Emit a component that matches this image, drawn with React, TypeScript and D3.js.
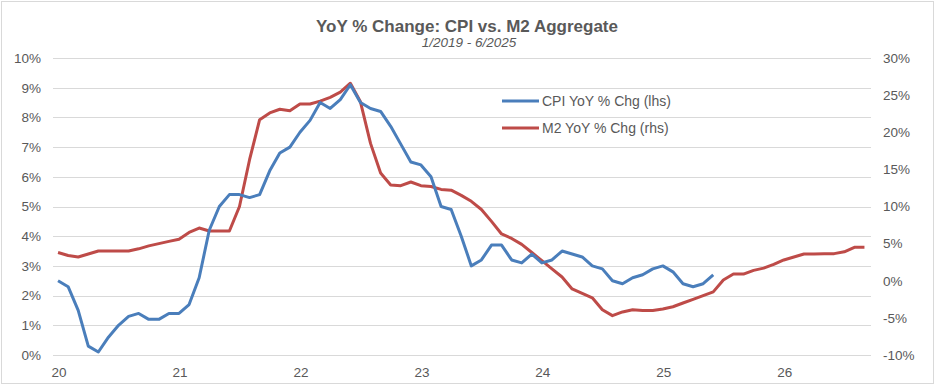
import { useEffect, useRef } from 'react';
import * as d3 from 'd3';

// monthly, starting Jan 2020
const cpiYoY = [
  2.5, 2.3, 1.5, 0.3, 0.1, 0.6, 1.0, 1.3, 1.4, 1.2, 1.2, 1.4,
  1.4, 1.7, 2.6, 4.2, 5.0, 5.4, 5.4, 5.3, 5.4, 6.2, 6.8, 7.0,
  7.5, 7.9, 8.5, 8.3, 8.6, 9.1, 8.5, 8.3, 8.2, 7.7, 7.1, 6.5,
  6.4, 6.0, 5.0, 4.9, 4.0, 3.0, 3.2, 3.7, 3.7, 3.2, 3.1, 3.4,
  3.1, 3.2, 3.5, 3.4, 3.3, 3.0, 2.9, 2.5, 2.4, 2.6, 2.7, 2.9,
  3.0, 2.8, 2.4, 2.3, 2.4, 2.7,
];

// M2 is plotted shifted forward, so it runs past the CPI line
const m2YoY = [
  3.8, 3.4, 3.2, 3.6, 4.0, 4.0, 4.0, 4.0, 4.3, 4.7, 5.0, 5.3,
  5.6, 6.5, 7.1, 6.7, 6.7, 6.7, 10.0, 16.3, 21.7, 22.6, 23.1, 22.9,
  23.8, 23.8, 24.2, 24.7, 25.4, 26.6, 24.1, 18.5, 14.5, 12.9, 12.8, 13.3,
  12.8, 12.7, 12.3, 12.2, 11.5, 10.7, 9.6, 8.0, 6.3, 5.7, 4.9, 3.8,
  2.7, 1.6, 0.5, -1.1, -1.7, -2.3, -3.9, -4.7, -4.2, -3.9, -4.0, -4.0,
  -3.8, -3.5, -3.0, -2.5, -2.0, -1.5, 0.1, 0.9, 0.9, 1.4, 1.7, 2.2,
  2.8, 3.2, 3.6, 3.6, 3.65, 3.65, 3.9, 4.5, 4.5,
];

const yearLabels = ['20', '21', '22', '23', '24', '25', '26'];
const leftTicks = [0, 1, 2, 3, 4, 5, 6, 7, 8, 9, 10];
const rightTicks = [-10, -5, 0, 5, 10, 15, 20, 25, 30];

const seriesNames = ['CPI YoY % Chg (lhs)', 'M2 YoY % Chg (rhs)'];
const colors = ['#4A7EBB', '#BE4B48'];

const App = () => {
  const svgRef = useRef<SVGSVGElement | null>(null);

  useEffect(() => {
    if (!svgRef.current) return;
    const width = 936;
    const height = 388;
    const plot = { left: 53, right: 871, top: 58, bottom: 355 };
    const font = 'Liberation Sans, Arial, sans-serif';
    const textColor = '#595959';

    const svg = d3.select(svgRef.current);
    svg.selectAll('*').remove();
    svg.attr('width', width).attr('height', height);

    svg.append('rect')
      .attr('width', width).attr('height', height).attr('fill', '#fff');
    svg.append('rect')
      .attr('x', 1.5).attr('y', 1.5)
      .attr('width', 932).attr('height', 382)
      .attr('fill', 'none').attr('stroke', '#D9D9D9');

    // month index scale (0 = Jan 2020)
    const x = d3.scaleLinear().domain([-0.5, 80.65]).range([plot.left, plot.right]);
    const yL = d3.scaleLinear().domain([0, 10]).range([plot.bottom, plot.top]);
    const yR = d3.scaleLinear().domain([-10, 30]).range([plot.bottom, plot.top]);

    // gridlines
    svg.append('g')
      .selectAll('line')
      .data(leftTicks)
      .join('line')
      .attr('x1', plot.left).attr('x2', plot.right)
      .attr('y1', (d) => Math.round(yL(d)) + 0.5)
      .attr('y2', (d) => Math.round(yL(d)) + 0.5)
      .attr('stroke', '#D9D9D9');

    // left axis labels
    svg.append('g')
      .selectAll('text')
      .data(leftTicks)
      .join('text')
      .attr('x', 41).attr('y', (d) => yL(d))
      .attr('dy', '0.36em')
      .attr('text-anchor', 'end')
      .attr('font-family', font).attr('font-size', 13.5)
      .attr('fill', textColor)
      .text((d) => `${d}%`);

    // right axis labels
    svg.append('g')
      .selectAll('text')
      .data(rightTicks)
      .join('text')
      .attr('x', 883).attr('y', (d) => yR(d))
      .attr('dy', '0.36em')
      .attr('text-anchor', 'start')
      .attr('font-family', font).attr('font-size', 13.5)
      .attr('fill', textColor)
      .text((d) => `${d}%`);

    // x axis year labels
    svg.append('g')
      .selectAll('text')
      .data(yearLabels)
      .join('text')
      .attr('x', (_, i) => x(i * 12) + 1)
      .attr('y', 377)
      .attr('text-anchor', 'middle')
      .attr('font-family', font).attr('font-size', 13.5)
      .attr('fill', textColor)
      .text((d) => d);

    const lineL = d3.line<number>().x((_, i) => x(i)).y((d) => yL(d));
    const lineR = d3.line<number>().x((_, i) => x(i)).y((d) => yR(d));

    svg.append('path')
      .datum(m2YoY)
      .attr('fill', 'none')
      .attr('stroke', colors[1])
      .attr('stroke-width', 3)
      .attr('stroke-linejoin', 'round')
      .attr('d', lineR);

    svg.append('path')
      .datum(cpiYoY)
      .attr('fill', 'none')
      .attr('stroke', colors[0])
      .attr('stroke-width', 3)
      .attr('stroke-linejoin', 'round')
      .attr('d', lineL);

    // legend
    const legend = svg.append('g');
    seriesNames.forEach((name, i) => {
      const ly = 101 + i * 27;
      legend.append('line')
        .attr('x1', 502).attr('x2', 539)
        .attr('y1', ly).attr('y2', ly)
        .attr('stroke', colors[i]).attr('stroke-width', 3);
      legend.append('text')
        .attr('x', 542).attr('y', ly)
        .attr('dy', '0.36em')
        .attr('font-family', font).attr('font-size', 14)
        .attr('fill', textColor)
        .text(name);
    });

    // titles
    svg.append('text')
      .attr('x', 467).attr('y', 32)
      .attr('text-anchor', 'middle')
      .attr('font-family', font).attr('font-size', 17).attr('font-weight', 'bold')
      .attr('fill', textColor)
      .text('YoY % Change: CPI vs. M2 Aggregate');
    svg.append('text')
      .attr('x', 469).attr('y', 47)
      .attr('text-anchor', 'middle')
      .attr('font-family', font).attr('font-size', 13.5).attr('font-style', 'italic')
      .attr('fill', textColor)
      .text('1/2019 - 6/2025');
  }, []);

  return (
    <div style={{ position: 'absolute', left: 0, top: 0 }}>
      <svg ref={svgRef} style={{ display: 'block' }}></svg>
    </div>
  );
};

export default App;
